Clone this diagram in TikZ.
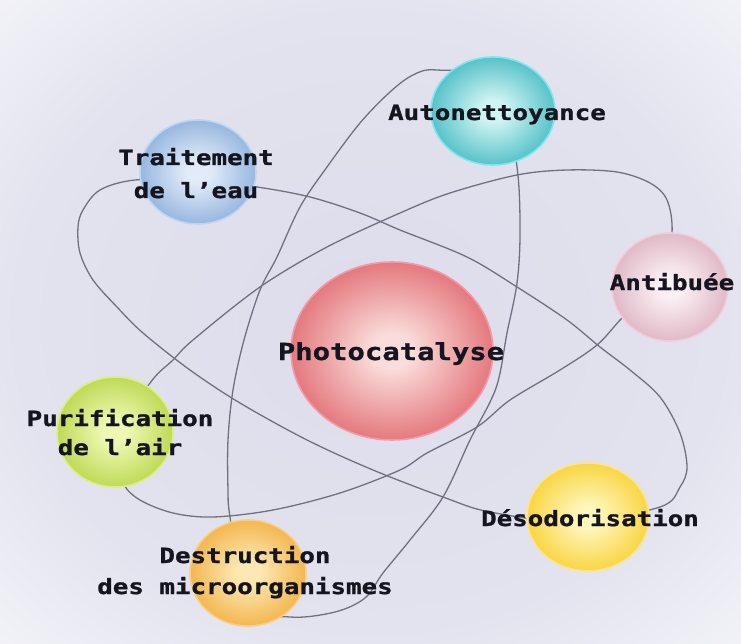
\documentclass[tikz,border=0pt]{standalone}
\usepackage{fontspec}
\usetikzlibrary{shapes.geometric}
\newfontfamily\labfont[FakeStretch=1.23, BoldFeatures={FakeBold=1.2}]{DejaVu Sans Mono}

\definecolor{ink}{HTML}{15151F}
\definecolor{orbitgray}{HTML}{6E7280}
\definecolor{bgmid}{HTML}{DCDCEB}
\colorlet{ballin}{white}
\colorlet{ballout}{gray}

% sphere palettes: core, rim, glow
\definecolor{redin}{HTML}{FADCDA}    \definecolor{redout}{HTML}{D8434C}    \definecolor{redglow}{HTML}{F29AA8}
\definecolor{bluein}{HTML}{E2ECF8}   \definecolor{blueout}{HTML}{6E9AD2}   \definecolor{blueglow}{HTML}{BCD6F2}
\definecolor{tealin}{HTML}{D0F4F2}   \definecolor{tealout}{HTML}{14A8B4}   \definecolor{tealglow}{HTML}{80E6EE}
\definecolor{pinkin}{HTML}{FBF0F3}   \definecolor{pinkout}{HTML}{D29CAE}   \definecolor{pinkglow}{HTML}{F2CCD8}
\definecolor{greenin}{HTML}{EEF8B4}  \definecolor{greenout}{HTML}{A6CA22}  \definecolor{greenglow}{HTML}{DAEE84}
\definecolor{yellowin}{HTML}{FFF6BC} \definecolor{yellowout}{HTML}{F6C400} \definecolor{yellowglow}{HTML}{FBE48C}
\definecolor{orangein}{HTML}{FDE8B4} \definecolor{orangeout}{HTML}{EE9C18} \definecolor{orangeglow}{HTML}{F8CE84}

% soft background haze
\pgfdeclareradialshading{haze}{\pgfpoint{0bp}{0bp}}{%
  color(0bp)=(bgmid); color(24bp)=(bgmid!80!white); color(46bp)=(white); color(70bp)=(white)}
% glossy sphere: light core, saturated rim
\pgfdeclareradialshading[ballin,ballout]{orb}{\pgfpoint{0bp}{0bp}}{%
  color(0bp)=(ballin); color(5bp)=(ballin); color(22bp)=(ballin!45!ballout);
  color(36bp)=(ballout); color(47bp)=(ballout); color(50bp)=(ballout!80!white)}

\tikzset{
  orbit/.style={draw=orbitgray, line width=1.3pt},
  ball/.style={ellipse, inner sep=0pt, draw=#1glow, line width=1.6pt,
    /utils/exec={\colorlet{ballin}{#1in}\colorlet{ballout}{#1out}}, shade, shading=orb},
  lab/.style={font=\labfont\bfseries\fontsize{21}{31}\selectfont, text=ink,
    align=center, anchor=base, inner sep=0pt},
}

\begin{document}
\begin{tikzpicture}[x=1pt, y=-1pt]
\useasboundingbox (0,0) rectangle (741,644);
\shade[shading=haze] (0,0) rectangle (741,644);

% three orbits
\draw[orbit] plot[smooth cycle, tension=0.55] coordinates {
  (196,180) (135,180) (100,190) (83,210) (78,227) (80,253) (93,280) (117,307)
  (143,333) (190,370) (240,403) (307,440) (373,470) (443,497) (490,512)
  (575,522) (660,507) (680,487) (687,467) (680,433) (660,397) (630,370)
  (600,347) (567,320) (517,287) (467,257) (400,230) (360,213) (310,197) (257,187)};
\draw[orbit] plot[smooth cycle, tension=0.55] coordinates {
  (110,445) (123,483) (140,500) (173,513) (213,517) (273,510) (340,493)
  (400,470) (427,453) (477,427) (510,400) (560,370) (597,345) (623,317)
  (662,280) (672,233) (667,200) (650,183) (617,172) (567,170) (517,175)
  (450,193) (400,213) (327,247) (260,287) (193,340) (173,360) (150,383)};
\draw[orbit] plot[smooth cycle, tension=0.55] coordinates {
  (230,517) (228,490) (228,440) (233,390) (244,340) (260,290) (277,257)
  (300,207) (327,167) (360,123) (390,92) (413,75) (437,70) (500,82)
  (517,167) (520,233) (517,283) (507,333) (496,388) (470,440) (443,497)
  (410,540) (383,573) (365,598) (335,612) (290,617) (245,604)};

% spheres
\node[ball=red,    minimum width=202pt, minimum height=178pt] (photo) at (392,351) {};
\node[ball=blue,   minimum width=116pt, minimum height=104pt] (eau)   at (198,172) {};
\node[ball=teal,   minimum width=124pt, minimum height=108pt] (auto)  at (493,111) {};
\node[ball=pink,   minimum width=116pt, minimum height=108pt] (buee)  at (670,287) {};
\node[ball=green,  minimum width=116pt, minimum height=110pt] (air)   at (115,432) {};
\node[ball=yellow, minimum width=122pt, minimum height=108pt] (odeur) at (588,517) {};
\node[ball=orange, minimum width=116pt, minimum height=106pt] (micro) at (248,573) {};

% labels (a two-line label sits on the baseline of its last line)
\node[lab, font=\labfont\bfseries\fontsize{23.5}{31}\selectfont] (tphoto) at (391,360) {Photocatalyse};
\node[lab] (tauto) at (497,120) {Autonettoyance};
\node[lab, font=\labfont\bfseries\fontsize{21}{33}\selectfont] (teau) at (196,198) {Traitement\\de l’eau};
\node[lab] (tbuee) at (672,290) {Antibuée};
\node[lab, font=\labfont\bfseries\fontsize{21}{29}\selectfont] (tair) at (120,455) {Purification\\de l’air};
\node[lab] (todeur) at (590,526) {Désodorisation};
\node[lab] (tmicro) at (245,594) {Destruction\\des microorganismes};
\end{tikzpicture}
\end{document}
